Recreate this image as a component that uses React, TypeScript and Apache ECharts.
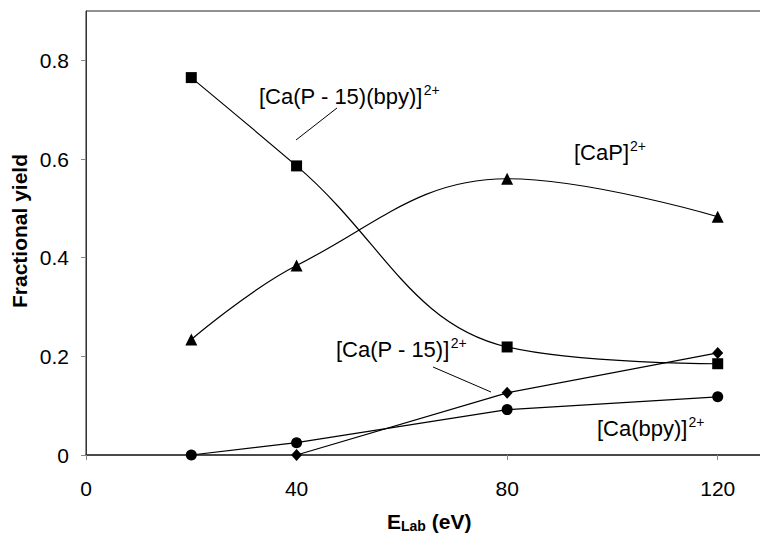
import React, { useEffect, useRef } from "react";
import * as echarts from "echarts";

const energies = [20, 40, 80, 120];
const caP15bpy = [0.765, 0.586, 0.219, 0.185];
const caP = [0.234, 0.384, 0.56, 0.483];
const caP15 = [null, 0, 0.126, 0.207];
const caBpy = [0, 0.025, 0.092, 0.118];
const xTicks = [0, 40, 80, 120];
const yTicks = [0, 0.2, 0.4, 0.6, 0.8];

const FONT = "'Liberation Sans', Arial, Helvetica, sans-serif";

function pairs(vals: (number | null)[]) {
  return energies.map((e, i) => [e, vals[i]]).filter((p) => p[1] !== null);
}

const rich = {
  m: { fontSize: 22, fontFamily: FONT, color: "#000", lineHeight: 24 },
  s: { fontSize: 14, fontFamily: FONT, color: "#000", lineHeight: 14, padding: [0, 0, 12, 1] },
  b: { fontSize: 21, fontFamily: FONT, fontWeight: "bold", color: "#000", lineHeight: 24 },
  sub: { fontSize: 14, fontFamily: FONT, fontWeight: "bold", color: "#000", lineHeight: 14, padding: [9, 0, 0, 0] },
};

export default function App() {
  const ref = useRef<HTMLDivElement>(null);
  useEffect(() => {
    if (!ref.current) return;
    const chart = echarts.init(ref.current, null, { renderer: "svg" });
    const lineStyle = { color: "#000", width: 1.2 };
    const mk = (x: number, y: number, t: string) => ({
      type: "text",
      x,
      y,
      style: {
        text: t,
        rich,
        align: "left",
        verticalAlign: "middle",
      },
    });
    chart.setOption({
      animation: false,
      backgroundColor: "#fff",
      grid: {
        left: 86,
        top: 11,
        right: -63,
        bottom: 81,
        show: true,
        borderColor: "#222",
        borderWidth: 1,
        containLabel: false,
        outerBoundsMode: "none",
      },
      xAxis: {
        type: "value",
        min: 0,
        max: 140,
        interval: 40,
        splitLine: { show: false },
        axisLine: { show: true, onZero: false, lineStyle: { color: "#333", width: 1.5 } },
        axisTick: { show: true, length: 5, lineStyle: { color: "#888" }, customValues: xTicks },
        axisLabel: {
          color: "#000",
          fontSize: 21,
          fontFamily: FONT,
          margin: 23,
          customValues: xTicks,
        },
      },
      yAxis: {
        type: "value",
        min: 0,
        max: 0.9,
        interval: 0.2,
        splitLine: { show: false },
        axisLine: { show: true, lineStyle: { color: "#333", width: 1 } },
        axisTick: { show: true, length: 5, lineStyle: { color: "#888" }, customValues: yTicks },
        axisLabel: {
          color: "#000",
          fontSize: 21,
          fontFamily: FONT,
          margin: 17,
          customValues: yTicks,
          formatter: (v: number) => (v === 0 ? "0" : String(Math.round(v * 10) / 10)),
        },
      },
      series: [
        {
          name: "[Ca(P - 15)(bpy)]2+",
          type: "line",
          data: pairs(caP15bpy),
          smooth: 0.4,
          symbol: "rect",
          symbolSize: 11,
          itemStyle: { color: "#000" },
          lineStyle,
        },
        {
          name: "[CaP]2+",
          type: "line",
          data: pairs(caP),
          smooth: 0.4,
          symbol: "triangle",
          symbolSize: 12,
          itemStyle: { color: "#000" },
          lineStyle,
        },
        {
          name: "[Ca(P - 15)]2+",
          type: "line",
          data: pairs(caP15),
          smooth: false,
          symbol: "diamond",
          symbolSize: [11, 12],
          itemStyle: { color: "#000" },
          lineStyle,
        },
        {
          name: "[Ca(bpy)]2+",
          type: "line",
          data: pairs(caBpy),
          smooth: false,
          symbol: "circle",
          symbolSize: 11,
          itemStyle: { color: "#000" },
          lineStyle,
        },
      ],
      graphic: [
        mk(259, 96, "{m|[Ca(P - 15)(bpy)]}{s|2+}"),
        mk(574, 152, "{m|[CaP]}{s|2+}"),
        mk(336, 349, "{m|[Ca(P - 15)]}{s|2+}"),
        mk(597, 428, "{m|[Ca(bpy)]}{s|2+}"),
        {
          type: "line",
          shape: { x1: 296, y1: 140, x2: 337, y2: 108 },
          style: { stroke: "#000", lineWidth: 1 },
        },
        {
          type: "line",
          shape: { x1: 433, y1: 367, x2: 491, y2: 392 },
          style: { stroke: "#000", lineWidth: 1 },
        },
        mk(387, 521, "{b|E}{sub|Lab}{b| (eV)}"),
        {
          type: "text",
          x: 19,
          y: 231,
          rotation: Math.PI / 2,
          style: {
            text: "Fractional yield",
            fontSize: 21,
            fontFamily: FONT,
            fontWeight: "bold",
            fill: "#000",
            align: "center",
            verticalAlign: "middle",
          },
        },
      ],
    });
    return () => chart.dispose();
  }, []);
  return (
    <div
      ref={ref}
      style={{ position: "fixed", left: 0, top: 0, width: 760, height: 536, background: "#fff" }}
    />
  );
}
